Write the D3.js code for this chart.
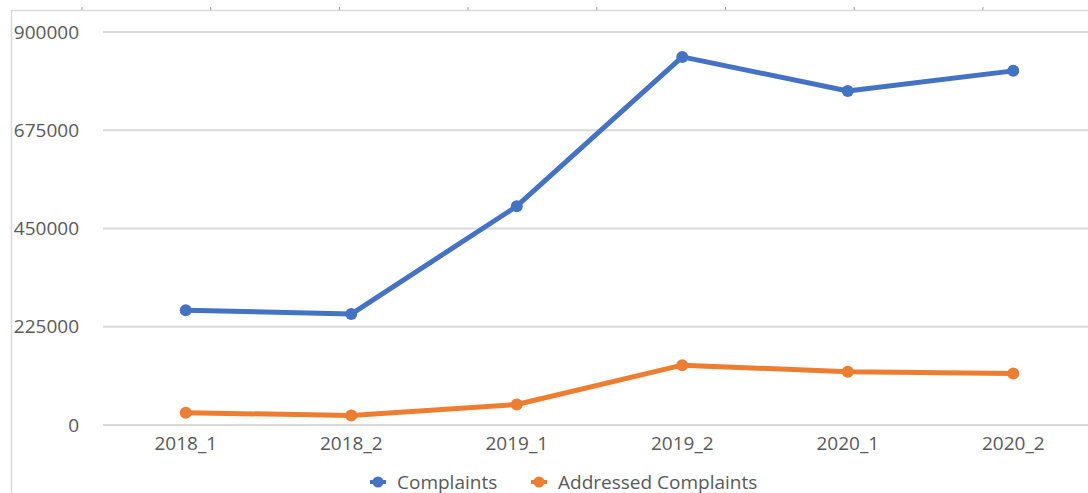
<!DOCTYPE html>
<html>
<head>
<meta charset="utf-8">
<script src="https://cdn.jsdelivr.net/npm/d3@7"></script>
<style>
  body { margin: 0; background: #fff; }
  svg { display: block; font-family: "Open Sans", sans-serif; }
</style>
</head>
<body>
<svg id="my_svg"></svg>
<script>
const width = 1088;
const height = 493;

// data
const periods = ['2018_1', '2018_2', '2019_1', '2019_2', '2020_1', '2020_2'];
const complaints = [263000, 254000, 501000, 843000, 765000, 811000];
const addressed = [28000, 22000, 47000, 137000, 122000, 118000];
const yTicks = [0, 225000, 450000, 675000, 900000];
const seriesNames = ['Complaints', 'Addressed Complaints'];
const seriesColors = ['#4472c4', '#ed7d31'];

const svg = d3.select('#my_svg')
    .attr('width', width)
    .attr('height', height);

const x = d3.scalePoint()
    .domain(periods)
    .range([103, 1096])
    .padding(0.5);

const y = d3.scaleLinear()
    .domain([0, 900000])
    .range([425, 32]);

// frame left over from the screenshot crop
svg.append('line')
    .attr('x1', 11.5).attr('x2', 11.5)
    .attr('y1', 10).attr('y2', height)
    .attr('stroke', '#d9d9d9')
    .attr('stroke-width', 1.5);
svg.append('line')
    .attr('x1', 11).attr('x2', width)
    .attr('y1', 10.5).attr('y2', 10.5)
    .attr('stroke', '#d9d9d9')
    .attr('stroke-width', 1.5);
svg.append('g')
    .selectAll('line')
    .data(d3.range(8))
    .enter().append('line')
    .attr('x1', d => 82 + d * 128.7)
    .attr('x2', d => 82 + d * 128.7)
    .attr('y1', 7).attr('y2', 10)
    .attr('stroke', '#999')
    .attr('stroke-width', 1);

// gridlines
svg.append('g')
    .selectAll('line')
    .data(yTicks)
    .enter().append('line')
    .attr('x1', 103).attr('x2', width)
    .attr('y1', d => y(d)).attr('y2', d => y(d))
    .attr('stroke', '#d9d9d9')
    .attr('stroke-width', 2);

// y labels
svg.append('g')
    .selectAll('text')
    .data(yTicks)
    .enter().append('text')
    .attr('x', 79)
    .attr('y', d => y(d))
    .attr('dy', '0.35em')
    .attr('text-anchor', 'end')
    .attr('font-size', 19)
    .attr('fill', '#595959')
    .text(d => d);

// x labels
svg.append('g')
    .selectAll('text')
    .data(periods)
    .enter().append('text')
    .attr('x', d => x(d))
    .attr('y', 450)
    .attr('text-anchor', 'middle')
    .attr('font-size', 19)
    .attr('fill', '#595959')
    .text(d => d);

const series = [complaints, addressed].map((vals, i) => ({
    name: seriesNames[i],
    color: seriesColors[i],
    values: vals.map((v, j) => ({ period: periods[j], value: v }))
}));

const line = d3.line()
    .x(d => x(d.period))
    .y(d => y(d.value));

const s_g = svg.append('g')
    .selectAll('g')
    .data(series)
    .enter().append('g');

s_g.append('path')
    .attr('d', d => line(d.values))
    .attr('fill', 'none')
    .attr('stroke', d => d.color)
    .attr('stroke-width', 5)
    .attr('stroke-linejoin', 'round');

s_g.selectAll('circle')
    .data(d => d.values.map(v => ({ ...v, color: d.color })))
    .enter().append('circle')
    .attr('cx', d => x(d.period))
    .attr('cy', d => y(d.value))
    .attr('r', 6)
    .attr('fill', d => d.color);

// legend
const legendX = [378, 539];
const legend = svg.append('g')
    .selectAll('g')
    .data(series)
    .enter().append('g')
    .attr('transform', (d, i) => `translate(${legendX[i]}, 482)`);
legend.append('line')
    .attr('x1', -8).attr('x2', 8)
    .attr('stroke', d => d.color)
    .attr('stroke-width', 4);
legend.append('circle')
    .attr('r', 5.5)
    .attr('fill', d => d.color);
legend.append('text')
    .attr('x', 19)
    .attr('y', 7)
    .attr('font-size', 19)
    .attr('fill', '#595959')
    .text(d => d.name);
</script>
</body>
</html>
